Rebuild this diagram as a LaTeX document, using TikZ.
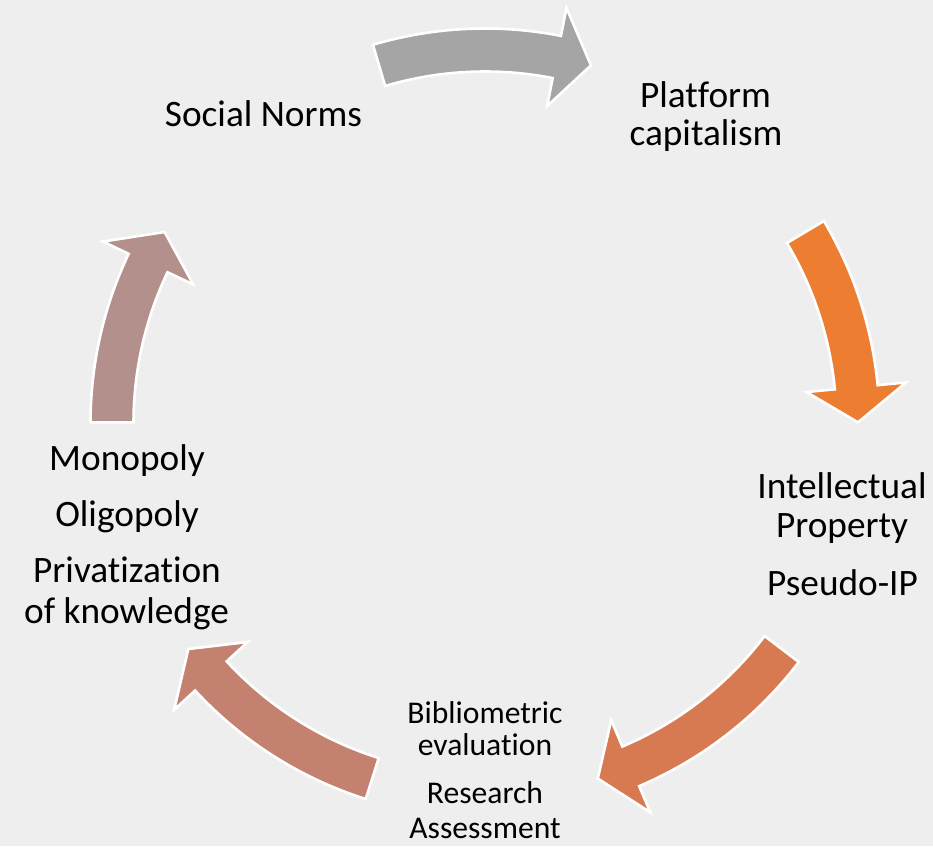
\documentclass[tikz,border=0pt]{standalone}
\usepackage{fontspec}
\setmainfont[Ligatures=NoCommon]{Carlito}
\definecolor{bgc}{RGB}{238,238,238}
\definecolor{cycA}{RGB}{165,165,165}
\definecolor{cycB}{RGB}{237,125,49}
\definecolor{cycC}{RGB}{216,122,81}
\definecolor{cycD}{RGB}{197,129,112}
\definecolor{cycE}{RGB}{180,144,140}
% curved arrow on the cycle: #1 tail angle, #2 tip angle (clockwise from top), #3 colour
\newcommand\cyclearrow[3]{%
  \pgfmathsetmacro\arrTail{90-#1}%
  \pgfmathsetmacro\arrTip{90-#2}%
  \pgfmathsetmacro\arrBase{\arrTip+5.4}%
  \path[arrowpiece,fill=#3]
    (\arrTail:394.5) arc[start angle=\arrTail,end angle=\arrBase,radius=394.5]
    -- (\arrBase:423) -- (\arrTip:373) -- (\arrBase:323) -- (\arrBase:351.5)
    arc[start angle=\arrBase,end angle=\arrTail,radius=351.5] -- cycle;}
\begin{document}
\begin{tikzpicture}[x=1pt,y=1pt,
  arrowpiece/.style={draw=white,line width=2.6pt,line join=miter},
  lbl/.style={font=\fontsize{37.3}{40}\selectfont,anchor=base,inner sep=0pt},
  lblsmall/.style={font=\fontsize{31.6}{33}\selectfont,anchor=base,inner sep=0pt}]
\fill[bgc] (0,0) rectangle (933,846);
\useasboundingbox (0,0) rectangle (933,846);
\begin{scope}[shift={(485,423)}]
  \cyclearrow{-16.5}{16.5}{cycA}
  \cyclearrow{59.2}{89.9}{cycB}
  \cyclearrow{127.3}{162.4}{cycC}
  \cyclearrow{197.6}{232.7}{cycD}
  \cyclearrow{270.1}{300.8}{cycE}
\end{scope}
% texts of the five stages
\node[lbl] (norms) at (263.5,719) {Social Norms};
\node[lbl] (plat1) at (705.5,738) {Platform};
\node[lbl] (plat2) at (706,700) {capitalism};
\node[lbl] (ip1) at (842,347) {Intellectual};
\node[lbl] (ip2) at (842,308) {Property};
\node[lbl] (ip3) at (842.5,251) {Pseudo-IP};
\node[lbl] (mon1) at (127,375) {Monopoly};
\node[lbl] (mon2) at (127,319) {Oligopoly};
\node[lbl] (mon3) at (127,263) {Privatization};
\node[lbl] (mon4) at (126.5,223) {of knowledge};
\node[lblsmall] (bib1) at (485,123) {Bibliometric};
\node[lblsmall] (bib2) at (485,91) {evaluation};
\node[lblsmall] (bib3) at (485,43) {Research};
\node[lblsmall] (bib4) at (485,8) {Assessment};
\end{tikzpicture}
\end{document}
